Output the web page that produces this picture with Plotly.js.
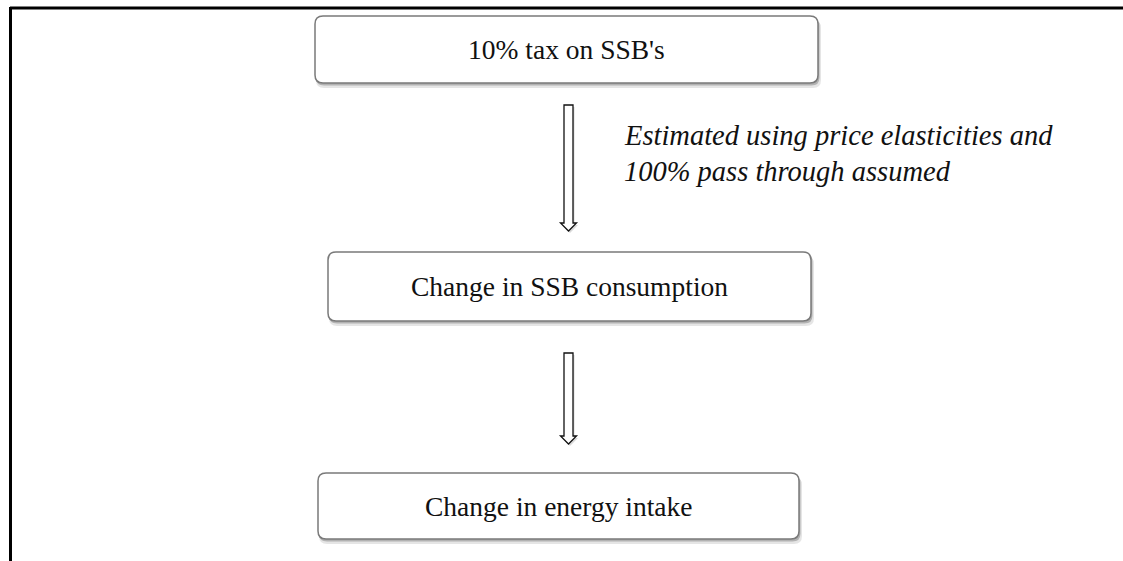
<!DOCTYPE html>
<html>
<head>
<meta charset="utf-8">
<script src="https://cdn.plot.ly/plotly-3.0.1.min.js"></script>
<style>
  html, body { margin: 0; padding: 0; background: #ffffff; }
  #chart { width: 1123px; height: 561px; }
</style>
</head>
<body>
<div id="chart"></div>
<script>
// ---- content (flowchart steps and the note on the first link) ----
var stepLabels = ["10% tax on SSB's", "Change in SSB consumption", "Change in energy intake"];
var linkNoteLines = ["Estimated using price elasticities and", "100% pass through assumed"];

// ---- layout geometry (pixel canvas coordinates) ----
var boxX0 = [315, 328, 318];
var boxX1 = [818, 811, 799];
var boxY0 = [16, 252, 473];
var boxY1 = [83, 321, 539];
var arrowTop = [105, 353];
var arrowHeadStart = [223, 436];
var arrowTip = [231, 444];
var noteX = 622;
var noteY = [135, 171];

function roundRect(x0, y0, x1, y1, r) {
  return 'M' + (x0 + r) + ',' + y0 +
    ' L' + (x1 - r) + ',' + y0 +
    ' Q' + x1 + ',' + y0 + ' ' + x1 + ',' + (y0 + r) +
    ' L' + x1 + ',' + (y1 - r) +
    ' Q' + x1 + ',' + y1 + ' ' + (x1 - r) + ',' + y1 +
    ' L' + (x0 + r) + ',' + y1 +
    ' Q' + x0 + ',' + y1 + ' ' + x0 + ',' + (y1 - r) +
    ' L' + x0 + ',' + (y0 + r) +
    ' Q' + x0 + ',' + y0 + ' ' + (x0 + r) + ',' + y0 + ' Z';
}

function arrowPath(cx, top, headStart, tip) {
  var sw = 4.5, hw = 8;
  return 'M' + (cx - sw) + ',' + top +
    ' L' + (cx + sw) + ',' + top +
    ' L' + (cx + sw) + ',' + headStart +
    ' L' + (cx + hw) + ',' + headStart +
    ' L' + cx + ',' + tip +
    ' L' + (cx - hw) + ',' + headStart +
    ' L' + (cx - sw) + ',' + headStart + ' Z';
}

var shapes = [];
// outer frame lines (top and left)
shapes.push({type: 'line', xref: 'x', yref: 'y', x0: 10, x1: 1123, y0: 8, y1: 8,
  line: {color: '#000000', width: 3}});
shapes.push({type: 'line', xref: 'x', yref: 'y', x0: 10.5, x1: 10.5, y0: 7, y1: 561,
  line: {color: '#000000', width: 3}});

for (var i = 0; i < stepLabels.length; i++) {
  // soft shadow
  shapes.push({type: 'path', xref: 'x', yref: 'y', layer: 'above',
    path: roundRect(boxX0[i] + 1, boxY0[i] + 4, boxX1[i] + 3, boxY1[i] + 5, 8),
    fillcolor: 'rgba(0,0,0,0.10)', line: {width: 0}});
  shapes.push({type: 'path', xref: 'x', yref: 'y', layer: 'above',
    path: roundRect(boxX0[i] + 1, boxY0[i] + 2, boxX1[i] + 1.5, boxY1[i] + 2.5, 8),
    fillcolor: 'rgba(0,0,0,0.22)', line: {width: 0}});
  // box
  shapes.push({type: 'path', xref: 'x', yref: 'y', layer: 'above',
    path: roundRect(boxX0[i], boxY0[i], boxX1[i], boxY1[i], 8),
    fillcolor: '#ffffff', line: {color: '#7a7a7a', width: 1.5}});
}

for (var k = 0; k < arrowTop.length; k++) {
  shapes.push({type: 'path', xref: 'x', yref: 'y', layer: 'above',
    path: arrowPath(570, arrowTop[k] + 2, arrowHeadStart[k] + 2, arrowTip[k] + 2),
    fillcolor: 'rgba(0,0,0,0.15)', line: {width: 0}});
  shapes.push({type: 'path', xref: 'x', yref: 'y', layer: 'above',
    path: arrowPath(568.5, arrowTop[k], arrowHeadStart[k], arrowTip[k]),
    fillcolor: '#ffffff', line: {color: '#111111', width: 1.3}});
}

var annotations = [];
for (var j = 0; j < stepLabels.length; j++) {
  annotations.push({
    xref: 'x', yref: 'y',
    x: (boxX0[j] + boxX1[j]) / 2, y: (boxY0[j] + boxY1[j]) / 2,
    text: stepLabels[j], showarrow: false,
    xanchor: 'center', yanchor: 'middle',
    font: {family: 'Liberation Serif, Times New Roman, serif', size: 27.5, color: '#111111'}
  });
}
for (var m = 0; m < linkNoteLines.length; m++) {
  annotations.push({
    xref: 'x', yref: 'y',
    x: noteX, y: noteY[m],
    text: '<i>' + linkNoteLines[m] + '</i>', showarrow: false,
    xanchor: 'left', yanchor: 'middle', align: 'left',
    font: {family: 'Liberation Serif, Times New Roman, serif', size: 28.5, color: '#111111'}
  });
}

var layout = {
  width: 1123, height: 561,
  margin: {l: 0, r: 0, t: 0, b: 0},
  paper_bgcolor: '#ffffff', plot_bgcolor: '#ffffff',
  xaxis: {range: [0, 1123], visible: false, fixedrange: true},
  yaxis: {range: [561, 0], visible: false, fixedrange: true},
  showlegend: false,
  shapes: shapes,
  annotations: annotations
};

Plotly.newPlot('chart', [{x: [], y: [], type: 'scatter', mode: 'markers', hoverinfo: 'skip'}], layout,
  {displayModeBar: false, staticPlot: true});
</script>
</body>
</html>
